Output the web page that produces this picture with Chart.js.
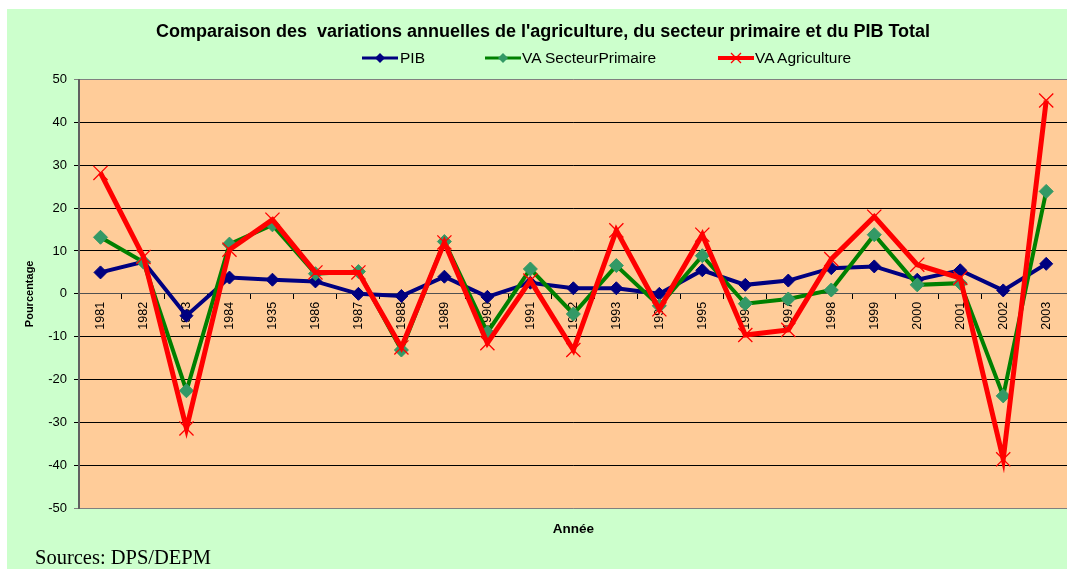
<!DOCTYPE html>
<html>
<head>
<meta charset="utf-8">
<script src="https://cdn.jsdelivr.net/npm/chart.js@4"></script>
<style>
  html, body { margin: 0; padding: 0; background: #fff; overflow: hidden; width: 1067px; height: 569px; }
  #frame { position: absolute; left: 7px; top: 9px; width: 1080px; height: 570px; background: #CCFFCC; }
  #chart { position: absolute; left: 0; top: 0; }
  #legend { position: absolute; left: 0; top: 0; width: 100%; font-family: "Liberation Sans", Arial, sans-serif; font-size: 15.5px; }
  .legend-item { position: absolute; top: 40px; height: 18px; line-height: 18px; white-space: nowrap; }
  .legend-item svg { position: absolute; left: 0; top: 3px; }
  .legend-item span { position: absolute; top: 0; }
  #source { position: absolute; left: 28px; top: 537px; font-family: "Liberation Serif", "Times New Roman", serif; font-size: 20.5px; color: #000; }
</style>
</head>
<body>
<div id="frame">
  <canvas id="chart" width="1072" height="560"></canvas>
  <div id="legend"></div>
  <div id="source">Sources: DPS/DEPM</div>
</div>
<script>
// annual variations, %
const years = ['1981','1982','1983','1984','1935','1986','1987','1988','1989','1990','1991','1992',
               '1993','1994','1995','1996','1997','1998','1999','2000','2001','2002','2003'];
const pib = [5.0, 7.5, -5.1, 3.8, 3.3, 2.9, 0.0, -0.5, 4.0, -0.7, 2.6, 1.3,
             1.3, 0.0, 5.5, 2.1, 3.1, 6.0, 6.4, 3.3, 5.5, 0.8, 7.0];
const vaPrimaire = [13.2, 7.4, -22.6, 11.6, 16.1, 4.7, 5.2, -13.1, 12.2, -9.0, 5.8, -4.7,
                    6.6, -2.8, 8.9, -2.3, -1.2, 0.9, 13.8, 2.1, 2.5, -23.8, 23.9];
const vaAgriculture = [28.2, 8.6, -31.4, 10.3, 17.3, 5.0, 5.0, -12.5, 12.0, -11.5, 3.1, -13.1,
                       14.8, -3.6, 13.8, -9.6, -8.4, 8.1, 18.0, 6.8, 3.7, -38.6, 45.1];
const yTicks = [-50, -40, -30, -20, -10, 0, 10, 20, 30, 40, 50];

const seriesStyle = [
  {label: 'PIB', data: pib, line: '#000080', marker: '#000080', shape: 'rectRot', radius: 6.5, width: 4, order: 2, legendX: 355, textX: 393},
  {label: 'VA SecteurPrimaire', data: vaPrimaire, line: '#008000', marker: '#339966', shape: 'rectRot', radius: 7, width: 4, order: 1, legendX: 478, textX: 515},
  {label: 'VA Agriculture', data: vaAgriculture, line: '#FF0000', marker: '#FF0000', shape: 'crossRot', radius: 10, width: 5, order: 0, legendX: 711, textX: 748}
];

function legendMarker(s) {
  let m;
  if (s.shape === 'crossRot') {
    m = `<path d="M13 1 L23 11 M23 1 L13 11" stroke="${s.marker}" stroke-width="1.3"/>`;
  } else {
    m = `<path d="M18 1 L23 6 L18 11 L13 6 Z" fill="${s.marker}"/>`;
  }
  return `<svg width="36" height="12"><line x1="0" y1="6" x2="36" y2="6" stroke="${s.line}" stroke-width="${s.width - 1}"/>${m}</svg>`;
}

function generateLegend(series) {
  let html = '';
  series.forEach(s => {
    html += `<div class="legend-item" style="left:${s.legendX}px">${legendMarker(s)}</div>`;
    html += `<div class="legend-item" style="left:${s.textX}px"><span>${s.label}</span></div>`;
  });
  return html;
}
document.getElementById('legend').innerHTML = generateLegend(seriesStyle);

const plotBackground = {
  id: 'plotBackground',
  beforeDraw(chart) {
    const {ctx, chartArea} = chart;
    ctx.save();
    ctx.fillStyle = '#FFCC99';
    ctx.fillRect(chartArea.left, chartArea.top, chartArea.right - chartArea.left, chartArea.bottom - chartArea.top);
    ctx.restore();
  }
};

const ctx = document.getElementById('chart').getContext('2d');
new Chart(ctx, {
  type: 'line',
  data: {
    labels: years,
    datasets: seriesStyle.map(s => ({
      label: s.label,
      data: s.data,
      xAxisID: 'x',
      yAxisID: 'y',
      order: s.order,
      borderColor: s.line,
      borderWidth: s.width,
      backgroundColor: s.marker,
      pointStyle: s.shape,
      pointRadius: s.radius,
      pointHoverRadius: s.radius,
      pointBackgroundColor: s.marker,
      pointBorderColor: s.marker,
      pointBorderWidth: s.shape === 'crossRot' ? 1.3 : 1,
      tension: 0,
      fill: false
    }))
  },
  options: {
    responsive: false,
    animation: false,
    layout: { padding: { left: 0, right: 0, top: 0, bottom: 27.6 } },
    plugins: {
      legend: { display: false },
      tooltip: { enabled: false },
      title: {
        display: true,
        text: "Comparaison des  variations annuelles de l'agriculture, du secteur primaire et du PIB Total",
        color: '#000',
        font: { family: 'Liberation Sans', size: 18, weight: 'bold' },
        padding: { top: 12.7, bottom: 36.2 }
      }
    },
    scales: {
      x: {
        type: 'category',
        position: { y: 0 },
        offset: true,
        grid: { offset: true, drawOnChartArea: false, drawTicks: true, tickLength: 5, color: '#000' },
        border: { color: '#505050', width: 1 },
        ticks: {
          color: '#000', minRotation: 90, maxRotation: 90, padding: 3, autoSkip: false,
          font: { family: 'Liberation Sans', size: 12.5 }
        }
      },
      xb: {
        type: 'category',
        position: 'bottom',
        offset: true,
        grid: { display: false, drawTicks: false },
        border: { display: false },
        ticks: { display: false },
        title: {
          display: true, text: 'Année', color: '#000',
          font: { family: 'Liberation Sans', size: 13.5, weight: 'bold' },
          padding: { top: 13, bottom: 4 }
        }
      },
      y: {
        min: -50,
        max: 50,
        afterFit(scale) { scale.width = 72; },
        afterBuildTicks(scale) { scale.ticks = yTicks.map(v => ({value: v})); },
        grid: {
          color: c => (c.tick && Math.abs(c.tick.value) === 50) ? '#808080' : '#000',
          lineWidth: 1,
          tickLength: 5
        },
        border: { color: '#606060', width: 2 },
        ticks: {
          color: '#000', padding: 7,
          font: { family: 'Liberation Sans', size: 13 }
        },
        title: {
          display: true, text: 'Pourcentage', color: '#000',
          font: { family: 'Liberation Sans', size: 11, weight: 'bold' },
          padding: { top: 16, bottom: 0 }
        }
      }
    }
  },
  plugins: [plotBackground]
});
</script>
</body>
</html>
